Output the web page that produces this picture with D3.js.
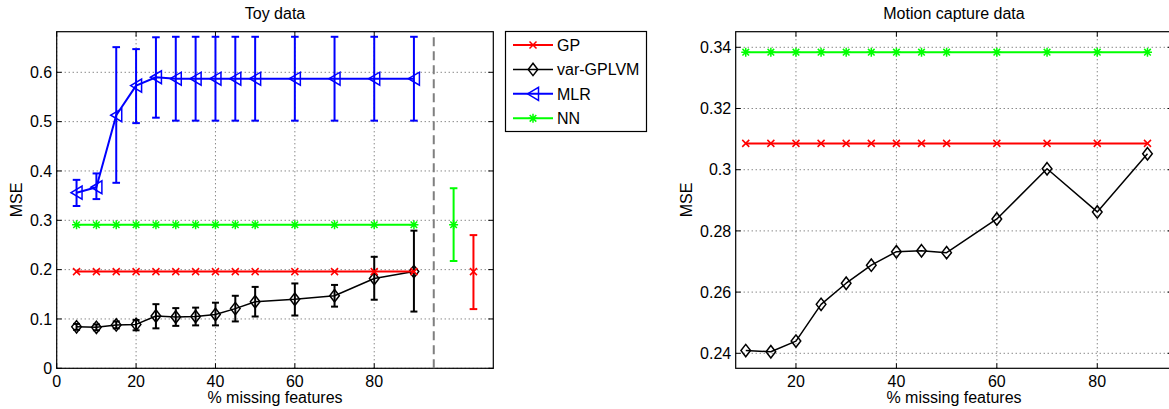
<!DOCTYPE html>
<html>
<head>
<meta charset="utf-8">
<script src="https://cdn.jsdelivr.net/npm/d3@7"></script>
<style>
  html, body { margin: 0; padding: 0; background: #fff; }
  svg { display: block; }
  text { font-family: "Liberation Sans", Arial, Helvetica, sans-serif; font-size: 16px; fill: #000; }
</style>
</head>
<body>
<svg id="chart" width="1169" height="409"></svg>
<script>
// ---- Toy data (left panel) ----
const toyX = [5, 10, 15, 20, 25, 30, 35, 40, 45, 50, 60, 70, 80, 90];
const toyGP = [0.196, 0.196, 0.196, 0.196, 0.196, 0.196, 0.196, 0.196, 0.196, 0.196, 0.196, 0.196, 0.196, 0.196];
const toyNN = [0.291, 0.291, 0.291, 0.291, 0.291, 0.291, 0.291, 0.291, 0.291, 0.291, 0.291, 0.291, 0.291, 0.291];
const toyVar = [0.084, 0.083, 0.088, 0.089, 0.106, 0.104, 0.105, 0.109, 0.121, 0.135, 0.140, 0.147, 0.182, 0.196];
const toyVarLo = [0.078, 0.077, 0.081, 0.077, 0.081, 0.086, 0.087, 0.087, 0.095, 0.105, 0.107, 0.125, 0.139, 0.115];
const toyVarHi = [0.090, 0.089, 0.095, 0.098, 0.130, 0.122, 0.123, 0.133, 0.147, 0.165, 0.172, 0.169, 0.226, 0.279];
const toyMLR = [0.356, 0.367, 0.513, 0.573, 0.590, 0.587, 0.587, 0.587, 0.587, 0.587, 0.587, 0.587, 0.587, 0.587];
const toyMLRLo = [0.329, 0.343, 0.376, 0.497, 0.508, 0.502, 0.502, 0.502, 0.502, 0.502, 0.502, 0.502, 0.502, 0.502];
const toyMLRHi = [0.382, 0.395, 0.651, 0.647, 0.671, 0.672, 0.672, 0.672, 0.672, 0.672, 0.672, 0.672, 0.672, 0.672];
// Stand-alone baselines shown right of the divider (mean with spread)
const toyExtraX = [100, 105];
const toyExtraMean = [0.291, 0.196];
const toyExtraLo = [0.2175, 0.120];
const toyExtraHi = [0.365, 0.270];
const toyDivider = 95;
const toyXTicks = [0, 20, 40, 60, 80];
const toyYTicks = [0, 0.1, 0.2, 0.3, 0.4, 0.5, 0.6];

// ---- Motion capture data (right panel) ----
const mocapX = [10, 15, 20, 25, 30, 35, 40, 45, 50, 60, 70, 80, 90];
const mocapGP = [0.3086, 0.3086, 0.3086, 0.3086, 0.3086, 0.3086, 0.3086, 0.3086, 0.3086, 0.3086, 0.3086, 0.3086, 0.3086];
const mocapNN = [0.3384, 0.3384, 0.3384, 0.3384, 0.3384, 0.3384, 0.3384, 0.3384, 0.3384, 0.3384, 0.3384, 0.3384, 0.3384];
const mocapVar = [0.2409, 0.2405, 0.2440, 0.2560, 0.2629, 0.2688, 0.2732, 0.2735, 0.2729, 0.2839, 0.3003, 0.2862, 0.3052];
const mocapXTicks = [20, 40, 60, 80];
const mocapYTicks = [0.24, 0.26, 0.28, 0.30, 0.32, 0.34];

// ---- Legend ----
const legendNames = ["GP", "var-GPLVM", "MLR", "NN"];
const legendColors = ["#ff0000", "#000000", "#0000ff", "#00ff00"];
const legendMarkers = ["x", "diamond", "triangle", "star"];

const svg = d3.select("#chart");

// marker glyphs as path strings centred on the point
function markerPath(type) {
  if (type === "x") { const s = 3.5; return `M${-s},${-s}L${s},${s}M${-s},${s}L${s},${-s}`; }
  if (type === "star") { const s = 4.5, d = 3.3; return `M${-s},0L${s},0M0,${-s}L0,${s}M${-d},${-d}L${d},${d}M${-d},${d}L${d},${-d}`; }
  if (type === "diamond") { const w = 4.8, h = 6.2; return `M0,${-h}L${w},0L0,${h}L${-w},0Z`; }
  if (type === "triangle") { const w = 5.5, h = 6.5; return `M${-w},0L${w},${-h}L${w},${h}Z`; }
  return "";
}

function drawAxesFrame(g, x, y, xTicks, yTicks, fmtY) {
  const [x0, x1] = x.range();
  const [y0, y1] = y.range(); // y0 bottom, y1 top
  const grid = g.append("g");
  yTicks.forEach(t => {
    grid.append("line").attr("x1", x0).attr("x2", x1).attr("y1", y(t)).attr("y2", y(t))
      .attr("stroke", "#555").attr("stroke-width", 1).attr("stroke-dasharray", "1,3");
  });
  xTicks.forEach(t => {
    grid.append("line").attr("x1", x(t)).attr("x2", x(t)).attr("y1", y0).attr("y2", y1)
      .attr("stroke", "#555").attr("stroke-width", 1).attr("stroke-dasharray", "1,3");
  });
  // inward ticks on all four sides
  const tl = 5;
  const tk = g.append("g").attr("stroke", "#000").attr("stroke-width", 1);
  xTicks.forEach(t => {
    tk.append("line").attr("x1", x(t)).attr("x2", x(t)).attr("y1", y0).attr("y2", y0 - tl);
    tk.append("line").attr("x1", x(t)).attr("x2", x(t)).attr("y1", y1).attr("y2", y1 + tl);
  });
  yTicks.forEach(t => {
    tk.append("line").attr("x1", x0).attr("x2", x0 + tl).attr("y1", y(t)).attr("y2", y(t));
    tk.append("line").attr("x1", x1).attr("x2", x1 - tl).attr("y1", y(t)).attr("y2", y(t));
  });
  g.append("rect").attr("x", x0).attr("y", y1).attr("width", x1 - x0).attr("height", y0 - y1)
    .attr("fill", "none").attr("stroke", "#000").attr("stroke-width", 1.2);
  // tick labels
  xTicks.forEach(t => {
    g.append("text").attr("x", x(t)).attr("y", y0 + 18.5).attr("text-anchor", "middle").text(String(t));
  });
  yTicks.forEach(t => {
    g.append("text").attr("x", x0 - 4.5).attr("y", y(t)).attr("dy", "0.36em").attr("text-anchor", "end").text(fmtY(t));
  });
}

function drawSeries(g, x, y, xs, ys, color, marker, width) {
  const line = d3.line().x((d, i) => x(xs[i])).y(d => y(d));
  g.append("path").datum(ys).attr("d", line).attr("fill", "none")
    .attr("stroke", color).attr("stroke-width", width).attr("stroke-linejoin", "round");
  g.selectAll(null).data(ys).enter().append("path")
    .attr("transform", (d, i) => `translate(${x(xs[i])},${y(d)})`)
    .attr("d", markerPath(marker)).attr("fill", "none")
    .attr("stroke", color).attr("stroke-width", 1.5);
}

function drawErrors(g, x, y, xs, lo, hi, color, width, cap) {
  const e = g.append("g").attr("stroke", color).attr("stroke-width", width);
  xs.forEach((xv, i) => {
    const cx = x(xv);
    e.append("line").attr("x1", cx).attr("x2", cx).attr("y1", y(lo[i])).attr("y2", y(hi[i]));
    e.append("line").attr("x1", cx - cap).attr("x2", cx + cap).attr("y1", y(lo[i])).attr("y2", y(lo[i]));
    e.append("line").attr("x1", cx - cap).attr("x2", cx + cap).attr("y1", y(hi[i])).attr("y2", y(hi[i]));
  });
}

const fmt = d => String(+d.toFixed(2));

// ---------------- Left panel: Toy data ----------------
{
  const x = d3.scaleLinear().domain([0, 110]).range([56.7, 493.3]);
  const y = d3.scaleLinear().domain([0, 0.6823]).range([368.3, 31.7]);
  const g = svg.append("g");
  drawAxesFrame(g, x, y, toyXTicks, toyYTicks, fmt);

  g.append("line").attr("x1", x(toyDivider)).attr("x2", x(toyDivider))
    .attr("y1", y.range()[0]).attr("y2", y.range()[1])
    .attr("stroke", "#7f7f7f").attr("stroke-width", 2).attr("stroke-dasharray", "9,5");

  drawSeries(g, x, y, toyX, toyNN, "#00ff00", "star", 2);
  drawErrors(g, x, y, toyX, toyMLRLo, toyMLRHi, "#0000ff", 2, 3.8);
  drawSeries(g, x, y, toyX, toyMLR, "#0000ff", "triangle", 2);
  drawErrors(g, x, y, toyX, toyVarLo, toyVarHi, "#000000", 2, 3.5);
  drawSeries(g, x, y, toyX, toyVar, "#000000", "diamond", 1.5);
  drawSeries(g, x, y, toyX, toyGP, "#ff0000", "x", 2);

  // baselines beyond the divider: NN then GP
  const extraColors = ["#00ff00", "#ff0000"];
  const extraMarkers = ["star", "x"];
  toyExtraX.forEach((xv, i) => {
    drawErrors(g, x, y, [xv], [toyExtraLo[i]], [toyExtraHi[i]], extraColors[i], 2, 3.8);
    g.append("path").attr("transform", `translate(${x(xv)},${y(toyExtraMean[i])})`)
      .attr("d", markerPath(extraMarkers[i])).attr("fill", "none")
      .attr("stroke", extraColors[i]).attr("stroke-width", 1.5);
  });

  g.append("text").attr("x", 275).attr("y", 18.5).attr("text-anchor", "middle").text("Toy data");
  g.append("text").attr("x", 275).attr("y", 403).attr("text-anchor", "middle").text("% missing features");
  g.append("text").attr("transform", "translate(21.5,200) rotate(-90)").attr("text-anchor", "middle").text("MSE");
}

// ---------------- Legend ----------------
{
  const g = svg.append("g");
  g.append("rect").attr("x", 505.5).attr("y", 31.5).attr("width", 141).attr("height", 100)
    .attr("fill", "#fff").attr("stroke", "#000").attr("stroke-width", 1.2);
  const rowY = d3.scalePoint().domain(legendNames).range([45, 118.3]);
  legendNames.forEach((name, i) => {
    const cy = rowY(name);
    g.append("line").attr("x1", 513).attr("x2", 553).attr("y1", cy).attr("y2", cy)
      .attr("stroke", legendColors[i]).attr("stroke-width", i === 1 ? 1.5 : 2);
    g.append("path").attr("transform", `translate(533,${cy})`).attr("d", markerPath(legendMarkers[i]))
      .attr("fill", "none").attr("stroke", legendColors[i]).attr("stroke-width", 1.5);
    g.append("text").attr("x", 557).attr("y", cy).attr("dy", "0.36em").text(name);
  });
}

// ---------------- Right panel: Motion capture data ----------------
{
  const x = d3.scaleLinear().domain([8, 95]).range([735.7, 1172.6]);
  const y = d3.scaleLinear().domain([0.2351, 0.3451]).range([368.3, 31.7]);
  const g = svg.append("g");
  drawAxesFrame(g, x, y, mocapXTicks, mocapYTicks, fmt);

  drawSeries(g, x, y, mocapX, mocapNN, "#00ff00", "star", 2);
  drawSeries(g, x, y, mocapX, mocapVar, "#000000", "diamond", 1.5);
  drawSeries(g, x, y, mocapX, mocapGP, "#ff0000", "x", 2);

  g.append("text").attr("x", 954).attr("y", 18.5).attr("text-anchor", "middle").text("Motion capture data");
  g.append("text").attr("x", 954).attr("y", 403).attr("text-anchor", "middle").text("% missing features");
  g.append("text").attr("transform", "translate(691.5,200) rotate(-90)").attr("text-anchor", "middle").text("MSE");
}
</script>
</body>
</html>
